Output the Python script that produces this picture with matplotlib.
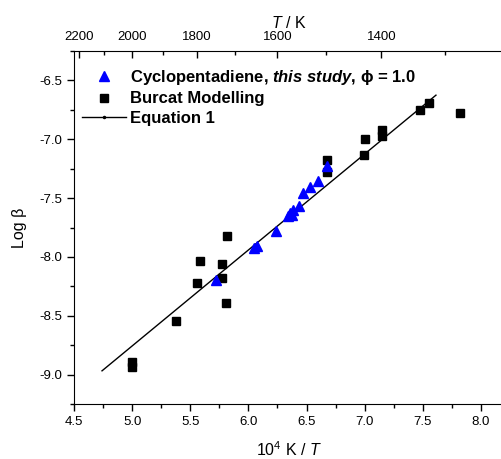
import matplotlib
matplotlib.use("Agg")
import matplotlib.pyplot as plt
from matplotlib.lines import Line2D
from matplotlib.ticker import MultipleLocator

plt.rcParams['font.family'] = ['Liberation Sans', 'DejaVu Sans']
plt.rcParams['mathtext.fontset'] = 'custom'
plt.rcParams['mathtext.rm'] = 'Liberation Sans'
plt.rcParams['mathtext.it'] = 'Liberation Sans:italic'
plt.rcParams['mathtext.bf'] = 'Liberation Sans:bold'
plt.rcParams['mathtext.bfit'] = 'Liberation Sans:bold:italic'

# cyclopentadiene, this study (10^4 K / T, log beta)
cpd_x = [6.675, 6.598, 6.529, 6.469, 6.435, 6.383, 6.357, 6.340, 6.374,
         6.237, 6.074, 6.048, 5.721]
cpd_y = [-7.224, -7.352, -7.403, -7.454, -7.565, -7.599, -7.624, -7.650,
         -7.641, -7.778, -7.905, -7.922, -8.195]

# Burcat modelling
burcat_x = [7.002, 6.996, 7.146, 7.151, 7.475, 7.553, 7.819, 6.673, 6.673,
            5.813, 5.586, 5.775, 5.555, 5.775, 5.807, 5.374, 4.996, 4.996]
burcat_y = [-6.994, -7.130, -6.917, -6.969, -6.755, -6.690, -6.780, -7.173,
            -7.281, -7.820, -8.033, -8.061, -8.218, -8.181, -8.394, -8.542,
            -8.891, -8.939]

# equation 1 (end points)
eq_x = [4.741, 7.613]
eq_y = [-8.968, -6.625]

T_major = [2200, 2000, 1800, 1600, 1400]
T_minor = [2100, 1900, 1700, 1500, 1300]

fig = plt.figure(figsize=(5.02, 4.59), dpi=100)
ax = fig.add_axes([0.1474, 0.1198, 0.857, 0.769])

ax.plot(eq_x, eq_y, color='black', lw=1.0)
ax.plot(burcat_x, burcat_y, 's', color='black', ms=5.5, ls='none')
ax.plot(cpd_x, cpd_y, '^', color='blue', ms=7, ls='none')

ax.set_xlim(4.5, 8.2)
ax.set_ylim(-9.25, -6.25)
ax.xaxis.set_major_locator(MultipleLocator(0.5))
ax.xaxis.set_minor_locator(MultipleLocator(0.25))
ax.yaxis.set_major_locator(MultipleLocator(0.5))
ax.yaxis.set_minor_locator(MultipleLocator(0.25))
ax.xaxis.set_major_formatter(matplotlib.ticker.FormatStrFormatter('%.1f'))
ax.yaxis.set_major_formatter(matplotlib.ticker.FormatStrFormatter('%.1f'))
ax.tick_params(which='major', direction='out', length=5, width=1, labelsize=9.5)
ax.tick_params(which='minor', direction='out', length=3, width=1)
ax.spines['top'].set_visible(False)
ax.spines['right'].set_visible(False)

ax.set_xlabel(r'10$^4$ K / $T$', fontsize=11.5, labelpad=9)
ax.set_ylabel(r'Log β', fontsize=11.5, labelpad=9)

top = ax.secondary_xaxis('top', functions=(lambda x: 1e4 / x, lambda t: 1e4 / t))
top.set_xticks(T_major)
top.set_xticks(T_minor, minor=True)
top.tick_params(which='major', direction='in', length=5, width=1, labelsize=9.5, pad=6)
top.tick_params(which='minor', direction='in', length=3, width=1)
top.set_xlabel(r'$T$ / K', fontsize=11.5, labelpad=2)

handles = [
    Line2D([], [], marker='^', color='blue', ms=7, ls='none'),
    Line2D([], [], marker='s', color='black', ms=5.5, ls='none'),
    Line2D([], [], marker='.', color='black', ms=3, lw=1.0),
]
labels = [
    r'Cyclopentadiene, $\mathbfit{this\ study}$, ϕ = 1.0',
    'Burcat Modelling',
    'Equation 1',
]
ax.legend(handles, labels, loc='upper left', frameon=False,
          prop={'weight': 'bold', 'size': 12}, handlelength=2.65,
          handletextpad=0.25, labelspacing=0.25, borderaxespad=0.0,
          bbox_to_anchor=(0.003, 0.97))

fig.savefig('out.png', dpi=100)
